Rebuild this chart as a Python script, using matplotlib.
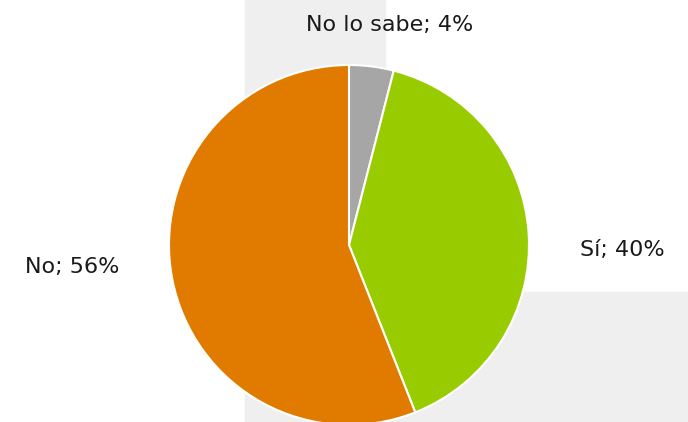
import matplotlib
matplotlib.use("Agg")
import matplotlib.pyplot as plt
from matplotlib.patches import Rectangle

labels = ["No lo sabe", "Sí", "No"]
values = [4, 40, 56]
colors = ["#A6A6A6", "#99CC00", "#E07B00"]

W, H = 688, 422
fig = plt.figure(figsize=(W / 100, H / 100), dpi=100)
ax = fig.add_axes([0, 0, 1, 1])
ax.set_axis_off()

# light gray background blocks
bg = "#EFEFEF"
ax.add_patch(Rectangle((245, 0), 140, H, color=bg, zorder=0))
ax.add_patch(Rectangle((245, 0), W - 245, H - 292, color=bg, zorder=0))

ax.pie(values, colors=colors, startangle=90, counterclock=False,
       center=(349, 177), radius=180,
       wedgeprops=dict(edgecolor="white", linewidth=1.5), frame=False)

ax.set_xlim(0, W)
ax.set_ylim(0, H)
ax.set_aspect("auto")

font = dict(fontsize=16, family="DejaVu Sans", color="#1a1a1a", va="center")
ax.text(390, 397, f"{labels[0]}; {values[0]}%", ha="center", **font)
ax.text(580, 172, f"{labels[1]}; {values[1]}%", ha="left", **font)
ax.text(25, 155, f"{labels[2]}; {values[2]}%", ha="left", **font)

fig.savefig("out.png", dpi=100)
